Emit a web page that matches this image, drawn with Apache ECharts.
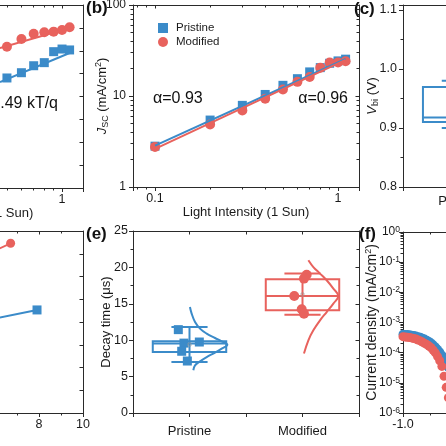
<!DOCTYPE html>
<html><head><meta charset="utf-8">
<script src="https://cdn.jsdelivr.net/npm/echarts@6/dist/echarts.min.js"></script>
<style>html,body{margin:0;padding:0;background:#fff}#c{width:446px;height:446px}</style>
</head><body><div id="c"></div>
<script>
// ---------------- data ----------------
// (a) Voc vs light intensity (partially visible)
const aIntensity = [0.5, 0.6, 0.7, 0.8, 0.9, 1.0, 1.1];
const aPristine = [0.8562, 0.8608, 0.8669, 0.8696, 0.8792, 0.8815, 0.8807];
const aModified = [0.8835, 0.8903, 0.8949, 0.8961, 0.8967, 0.8981, 0.9005];
const aPristineFit = [[0.458, 0.8527], [1.1, 0.878]];
const aModifiedFit = [[0.458, 0.8824], [1.1, 0.8999]];
// (b) Jsc vs light intensity
const bIntensity = [0.1, 0.2, 0.3, 0.4, 0.5, 0.6, 0.7, 0.8, 0.9, 1.0, 1.1];
const bPristine = [2.81, 5.44, 7.89, 10.4, 13.1, 15.5, 18.4, 20.5, 22.9, 24.3, 25.4];
const bModified = [2.76, 4.87, 6.95, 9.35, 11.8, 14.3, 16.2, 20.5, 23.3, 23.3, 24.1];
const bPristineFit = [[0.1, 2.85], [1.1, 25.5]];
const bModifiedFit = [[0.1, 2.62], [1.1, 25.0]];
// (c) Vbi box (min, q1, median, q3, max)
const catNames = ['Pristine', 'Modified'];
const cPristineBox = [0.90, 0.910, 0.918, 0.9695, 0.98];
// (d) partial lines
const dModifiedX = [6.0, 6.71];
const dModifiedY = [7.14, 7.46];
const dPristineX = [6.0, 7.91];
const dPristineY = [4.15, 4.53];
// (e) decay time
const ePristineBox = [7.0, 8.38, 9.55, 9.85, 11.8];
const eModifiedBox = [13.5, 14.1, 16.07, 18.37, 19.15];
const ePristinePts = [11.45, 9.6, 9.75, 8.48, 7.14];
const ePristineJit = [-0.099, -0.049, 0.087, -0.069, -0.019];
const eModifiedPts = [19.0, 18.46, 16.07, 14.25, 13.65];
const eModifiedJit = [0.037, 0.013, -0.073, -0.007, 0.013];
const ePristineMean = 9.4, eModifiedMean = 16.27;
const ePristineCurveV = [14.56, 13.65, 12.5, 11.59, 10.9, 10.3, 9.85, 9.39, 8.84, 8.29, 7.69, 7.1, 6.55, 5.87];
const ePristineCurveW = [0.004, 0.019, 0.049, 0.093, 0.152, 0.226, 0.285, 0.335, 0.285, 0.226, 0.152, 0.093, 0.049, 0.034];
const eModifiedCurveV = [20.98, 20.05, 19.15, 18.23, 17.09, 16.07, 15.03, 13.87, 12.73, 11.36, 9.99, 8.16];
const eModifiedCurveW = [0.052, 0.096, 0.155, 0.214, 0.273, 0.317, 0.273, 0.214, 0.155, 0.096, 0.052, 0.013];
// (f) dark current density
const fVoltage = [-1.00,-0.98,-0.96,-0.94,-0.92,-0.90,-0.88,-0.86,-0.84,-0.82,-0.80,-0.78,-0.76,-0.74,-0.72,-0.70,-0.68,-0.66,-0.64,-0.62,-0.60,-0.58];
const fPristine = [4.07e-4,3.98e-4,3.98e-4,3.89e-4,3.80e-4,3.72e-4,3.55e-4,3.39e-4,3.24e-4,3.02e-4,2.82e-4,2.57e-4,2.34e-4,2.09e-4,1.82e-4,1.55e-4,1.29e-4,1.05e-4,8.3e-5,6.3e-5,4.7e-5,3.2e-5];
const fModified = [3.39e-4,3.31e-4,3.24e-4,3.16e-4,3.09e-4,2.95e-4,2.82e-4,2.63e-4,2.45e-4,2.24e-4,2.04e-4,1.86e-4,1.66e-4,1.45e-4,1.20e-4,9.8e-5,7.4e-5,5.4e-5,3.5e-5,1.66e-5,7.1e-6,3.2e-6];

// ---------------- style ----------------
const BLUE = '#3b8bc9', RED = '#e8625d';
const FONT = '"Liberation Sans", Arial, Helvetica, sans-serif';
const AXC = '#2a2a2a';
const zip = (xs, ys) => xs.map((x, i) => [x, ys[i]]);

function logMinor(lo, hi) {
  const out = [];
  for (let e = lo; e < hi; e++) for (let k = 2; k <= 9; k++) out.push(k * Math.pow(10, e));
  return out;
}
function decadeFmt(v) {
  const l = Math.log10(v), r = Math.round(l);
  if (Math.abs(l - r) > 1e-6) return '';
  return r < 0 ? Math.pow(10, r).toFixed(-r) : String(Math.pow(10, r));
}
function axis(grid, pos, o) {
  o = o || {};
  const mirror = !!o.mirror;
  return {
    type: o.type || 'value', gridIndex: grid, position: pos, show: !o.hidden,
    min: o.min, max: o.max, interval: o.interval, logBase: 10, silent: true,
    axisLine: {show: !o.noLine, onZero: false, lineStyle: {color: AXC, width: 1}},
    axisTick: {show: !o.noTick, inside: mirror, length: o.tickLen || (mirror ? 3.5 : 4),
      lineStyle: {color: AXC, width: 1}, customValues: o.tickValues},
    minorTick: o.minor ? {show: true, splitNumber: o.minor, length: 2.5, lineStyle: {color: AXC, width: 1}} : {show: false},
    axisLabel: (mirror || o.noLabel) ? {show: false} : {show: true, color: '#1a1a1a', fontFamily: FONT,
      fontSize: o.fs || 12.5, margin: o.margin == null ? 5 : o.margin, formatter: o.fmt, rich: o.rich,
      showMinLabel: o.showMin, showMaxLabel: o.showMax},
    splitLine: {show: false},
    name: o.name, nameLocation: 'middle', nameGap: o.nameGap, nameMoveOverlap: false,
    nameTextStyle: {color: '#1a1a1a', fontFamily: FONT, fontSize: o.nfs || 13, lineHeight: 16, rich: o.nrich}
  };
}
const catFmt = v => {
  const r = Math.round(v);
  return Math.abs(v - r) < 1e-6 && catNames[r] ? catNames[r] : '';
};
const subRich = {
  i: {fontStyle: 'italic', fontSize: 13, fontFamily: FONT, color: '#1a1a1a'},
  s: {fontSize: 9, fontFamily: FONT, color: '#1a1a1a', verticalAlign: 'bottom', lineHeight: 16},
  p: {fontSize: 9, fontFamily: FONT, color: '#1a1a1a', verticalAlign: 'top', lineHeight: 16}
};
const bX = {type: 'log', min: 0.0758, max: 1.302};

const xAxis = [
  axis(0, 'bottom', Object.assign({fmt: decadeFmt, fs: 12.5, name: 'Light Intensity (1 Sun)', nameGap: 17}, bX)), //0
  axis(0, 'top', Object.assign({mirror: true}, bX)), //1
  axis(1, 'bottom', Object.assign({fmt: decadeFmt, fs: 12.5, name: 'Light Intensity (1 Sun)', nameGap: 17}, bX)), //2
  axis(1, 'top', Object.assign({mirror: true}, bX)), //3
  axis(2, 'bottom', {min: -0.5, max: 1.5, interval: 0.5, fmt: catFmt, fs: 13, margin: 8}), //4
  axis(2, 'top', {mirror: true, min: -0.5, max: 1.5, interval: 0.5}), //5
  axis(3, 'bottom', {min: 0, max: 10, interval: 2, minor: 2, fs: 12.5}), //6
  axis(3, 'top', {mirror: true, min: 0, max: 10, interval: 2, minor: 2}), //7
  axis(4, 'bottom', {min: -0.5, max: 1.5, interval: 0.5, fmt: catFmt, fs: 13, margin: 12}), //8
  axis(4, 'top', {mirror: true, min: -0.5, max: 1.5, interval: 0.5}), //9
  axis(5, 'bottom', {min: -1, max: 1, interval: 0.5, minor: 2, fmt: v => v.toFixed(1), fs: 12.5}), //10
  axis(5, 'top', {mirror: true, min: -1, max: 1, interval: 0.5, minor: 2}), //11
  axis(0, 'bottom', Object.assign({noLine: true, noLabel: true, tickLen: 2.5, tickValues: logMinor(-2, 0)}, bX)), //12
  axis(0, 'top', Object.assign({mirror: true, noLine: true, tickLen: 2.5, tickValues: logMinor(-2, 0)}, bX)), //13
  axis(1, 'bottom', Object.assign({noLine: true, noLabel: true, tickLen: 2.5, tickValues: logMinor(-2, 0)}, bX)), //14
  axis(1, 'top', Object.assign({mirror: true, noLine: true, tickLen: 2.5, tickValues: logMinor(-2, 0)}, bX)) //15
];
const fYFmt = v => { const r = Math.round(Math.log10(v)); return '10{p|' + r + '}'; };
const fRich = {p: {fontSize: 8.5, fontFamily: FONT, color: '#1a1a1a', verticalAlign: 'top', lineHeight: 14}};
const yAxis = [
  axis(0, 'left', {min: 0.76, max: 0.92, interval: 0.02}), //0
  axis(0, 'right', {mirror: true, min: 0.76, max: 0.92, interval: 0.02}), //1
  axis(1, 'left', {type: 'log', min: 1, max: 100, fs: 12, margin: 7, name: '{i|J}{s|SC} (mA/cm{p|2})', nameGap: 23, nrich: subRich}), //2
  axis(1, 'right', {type: 'log', mirror: true, min: 1, max: 100}), //3
  axis(2, 'left', {min: 0.8, max: 1.1085, interval: 0.1, minor: 2, fs: 12.5, margin: 6, showMax: false,
    fmt: v => Math.abs(v * 10 - Math.round(v * 10)) < 1e-6 ? v.toFixed(1) : '',
    name: '{i|V}{s|bi} (V)', nameGap: 23, nfs: 13.5, nrich: subRich}), //4
  axis(2, 'right', {mirror: true, min: 0.8, max: 1.1085, interval: 0.1, minor: 2}), //5
  axis(3, 'left', {min: 0, max: 8, interval: 1}), //6
  axis(3, 'right', {mirror: true, min: 0, max: 8, interval: 1}), //7
  axis(4, 'left', {min: 0, max: 25, interval: 5, minor: 2, fs: 12.5, margin: 5, name: 'Decay time (\u03bcs)', nameGap: 19}), //8
  axis(4, 'right', {mirror: true, min: 0, max: 25, interval: 5, minor: 2}), //9
  axis(5, 'left', {type: 'log', min: 1e-6, max: 1, fs: 12, margin: 3, fmt: fYFmt, rich: fRich,
    name: 'Current density (mA/cm{p|2})', nameGap: 23, nfs: 14, nrich: subRich}), //10
  axis(5, 'right', {type: 'log', mirror: true, min: 1e-6, max: 1}), //11
  axis(1, 'left', {type: 'log', min: 1, max: 100, noLine: true, noLabel: true, tickLen: 2.5, tickValues: logMinor(0, 2)}), //12
  axis(1, 'right', {type: 'log', mirror: true, min: 1, max: 100, noLine: true, tickLen: 2.5, tickValues: logMinor(0, 2)}), //13
  axis(5, 'left', {type: 'log', min: 1e-6, max: 1, noLine: true, noLabel: true, tickLen: 2.5, tickValues: logMinor(-6, 0)}), //14
  axis(5, 'right', {type: 'log', mirror: true, min: 1e-6, max: 1, noLine: true, tickLen: 2.5, tickValues: logMinor(-6, 0)}) //15
];

function boxRender(params, api) {
  const x = api.value(0);
  const mn = api.value(1), q1 = api.value(2), md = api.value(3), q3 = api.value(4), mx = api.value(5);
  const unit = api.size([1, 0])[0];
  const hw = unit * 0.325, cw = unit * 0.16;
  const pMd = api.coord([x, md]), pQ1 = api.coord([x, q1]), pQ3 = api.coord([x, q3]);
  const pMn = api.coord([x, mn]), pMx = api.coord([x, mx]);
  const cx = pMd[0];
  const st = {stroke: api.visual('color'), fill: 'none', lineWidth: 2};
  return {type: 'group', children: [
    {type: 'line', shape: {x1: cx, y1: pMx[1], x2: cx, y2: pMn[1]}, style: st},
    {type: 'line', shape: {x1: cx - cw, y1: pMx[1], x2: cx + cw, y2: pMx[1]}, style: st},
    {type: 'line', shape: {x1: cx - cw, y1: pMn[1], x2: cx + cw, y2: pMn[1]}, style: st},
    {type: 'rect', shape: {x: cx - hw, y: pQ3[1], width: 2 * hw, height: pQ1[1] - pQ3[1]}, style: st},
    {type: 'line', shape: {x1: cx - hw, y1: pMd[1], x2: cx + hw, y2: pMd[1]}, style: st}
  ]};
}
const boxSeries = (name, xi, yi, idx, box, color) => ({
  type: 'custom', name, xAxisIndex: xi, yAxisIndex: yi, renderItem: boxRender,
  itemStyle: {color}, encode: {x: 0, y: [1, 2, 3, 4, 5]}, silent: true, clip: true,
  data: [[idx].concat(box)]
});
const lineS = (name, xi, yi, data, color, extra) => Object.assign({
  type: 'line', name, xAxisIndex: xi, yAxisIndex: yi, data, showSymbol: false, symbol: 'none',
  lineStyle: {color, width: 2}, itemStyle: {color}, silent: true, clip: true, animation: false
}, extra || {});
const scat = (name, xi, yi, data, color, sym, size, extra) => Object.assign({
  type: 'scatter', name, xAxisIndex: xi, yAxisIndex: yi, data, symbol: sym, symbolSize: size,
  itemStyle: {color, opacity: 1}, silent: true, clip: false, animation: false
}, extra || {});

const series = [
  // (a)
  lineS('a-fitP', 0, 0, aPristineFit, BLUE),
  lineS('a-fitM', 0, 0, aModifiedFit, RED),
  scat('a-P', 0, 0, zip(aIntensity, aPristine), BLUE, 'rect', 9),
  scat('a-M', 0, 0, zip(aIntensity, aModified), RED, 'circle', 10),
  // (b)
  lineS('b-fitP', 2, 2, bPristineFit, BLUE),
  lineS('b-fitM', 2, 2, bModifiedFit, RED),
  scat('Pristine', 2, 2, zip(bIntensity, bPristine), BLUE, 'rect', 9),
  scat('Modified', 2, 2, zip(bIntensity, bModified), RED, 'circle', 10),
  // (c)
  boxSeries('c-P', 4, 4, 0, cPristineBox, BLUE),
  // (d)
  lineS('d-M', 6, 6, zip(dModifiedX, dModifiedY), RED, {showSymbol: true, symbol: 'circle', symbolSize: 9}),
  lineS('d-P', 6, 6, zip(dPristineX, dPristineY), BLUE, {showSymbol: true, symbol: 'rect', symbolSize: 9}),
  // (e)
  boxSeries('e-Pbox', 8, 8, 0, ePristineBox, BLUE),
  boxSeries('e-Mbox', 8, 8, 1, eModifiedBox, RED),
  lineS('e-Pcurve', 8, 8, ePristineCurveV.map((v, i) => [0 + ePristineCurveW[i], v]), BLUE, {smooth: 0.4}),
  lineS('e-Mcurve', 8, 8, eModifiedCurveV.map((v, i) => [1 + eModifiedCurveW[i], v]), RED, {smooth: 0.4}),
  scat('e-P', 8, 8, ePristinePts.map((v, i) => [0 + ePristineJit[i], v]), BLUE, 'rect', 9),
  scat('e-M', 8, 8, eModifiedPts.map((v, i) => [1 + eModifiedJit[i], v]), RED, 'circle', 10),
  scat('e-mean', 8, 8, [[0, ePristineMean], [1, eModifiedMean]], '#fff', 'rect', 3,
    {itemStyle: {color: 'rgba(255,255,255,0)', borderColor: '#999', borderWidth: 0.8}}),
  // (f)
  scat('f-P', 10, 10, zip(fVoltage, fPristine), BLUE, 'circle', 9, {clip: true}),
  scat('f-M', 10, 10, zip(fVoltage, fModified), RED, 'circle', 9, {clip: true})
];

const G = (l, t, w, h) => ({left: l, top: t, width: w, height: h, outerBoundsMode: 'none', containLabel: false});
const chart = echarts.init(document.getElementById('c'), null, {renderer: 'canvas', width: 446, height: 446});
chart.setOption({
  backgroundColor: '#fff',
  animation: false,
  grid: [
    G(-143, 5, 226, 183),
    G(133, 5, 226, 182),
    G(403, 5, 228, 182),
    G(-137, 231, 220, 182),
    G(133, 231, 226, 182),
    G(403, 232, 216, 181)
  ],
  xAxis, yAxis, series,
  legend: {
    show: true, orient: 'vertical', left: 153, top: 17, itemWidth: 10, itemHeight: 10, itemGap: 2,
    selectedMode: false,
    textStyle: {fontFamily: FONT, fontSize: 11.5, color: '#1a1a1a', padding: [0, 0, 0, 3]},
    data: [{name: 'Pristine', icon: 'rect'}, {name: 'Modified', icon: 'circle'}]
  },
  graphic: [
    {type: 'text', left: 86, top: 0, style: {text: '(b)', font: 'bold 17px ' + FONT, fill: '#111'}},
    {type: 'text', left: 354, top: 1, style: {text: '(c)', font: 'bold 17px ' + FONT, fill: '#111'}},
    {type: 'text', left: 86, top: 226, style: {text: '(e)', font: 'bold 17px ' + FONT, fill: '#111'}},
    {type: 'text', left: 359, top: 226, style: {text: '(f)', font: 'bold 17px ' + FONT, fill: '#111'}},
    {type: 'text', x: 58, y: 104, style: {text: 'n=1.49 kT/q', font: '16px ' + FONT, fill: '#111', align: 'right', verticalAlign: 'middle'}},
    {type: 'text', x: 153, y: 99, style: {text: '\u03b1=0.93', font: '16px ' + FONT, fill: '#111', align: 'left', verticalAlign: 'middle'}},
    {type: 'text', x: 348, y: 99, style: {text: '\u03b1=0.96', font: '16px ' + FONT, fill: '#111', align: 'right', verticalAlign: 'middle'}}
  ]
});
</script>
</body></html>
